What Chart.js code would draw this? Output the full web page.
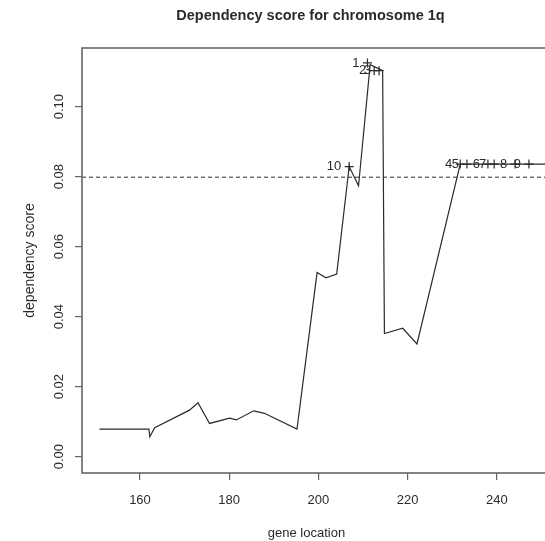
<!DOCTYPE html>
<html>
<head>
<meta charset="utf-8">
<script src="https://cdn.jsdelivr.net/npm/chart.js@4.4.1/dist/chart.umd.min.js"></script>
<style>
  html, body { margin: 0; padding: 0; background: #fff; overflow: hidden; }
  #chart { display: block; }
</style>
</head>
<body>
<canvas id="chart" width="545" height="541"></canvas>
<script>
const TITLE = "Dependency score for chromosome 1q";
const X_TITLE = "gene location";
const Y_TITLE = "dependency score";
const THRESHOLD = 0.08;

// gene location vs dependency score
const lineX = [150.9, 162.0, 162.2, 163.3, 171.1, 173.0, 175.6, 180.1, 181.6, 185.5, 187.9, 195.2,
  199.7, 201.7, 204.1, 206.9, 209.0, 211.6, 214.4, 214.8, 218.9, 222.1, 231.8, 233.3, 238.0,
  239.4, 244.1, 247.2, 252.0];
const lineY = [0.0079, 0.0079, 0.0057, 0.0083, 0.0133, 0.0154, 0.0095, 0.0110, 0.0105, 0.0131, 0.0124, 0.0079,
  0.0526, 0.0511, 0.0522, 0.0829, 0.0774, 0.1120, 0.1103, 0.0352, 0.0367, 0.0322, 0.0836, 0.0836, 0.0836,
  0.0836, 0.0836, 0.0836, 0.0836];

// top ranked positions, marked with "+"
const topLabels = ["1", "2", "3", "4", "5", "6", "7", "8", "9", "10"];
const topX = [211.0, 212.5, 213.6, 231.8, 233.3, 238.0, 239.4, 244.1, 247.2, 206.9];
const topY = [0.1125, 0.1103, 0.1103, 0.0836, 0.0836, 0.0836, 0.0836, 0.0836, 0.0836, 0.0829];

const xTicks = [160, 180, 200, 220, 240];
const yTicks = [0, 0.02, 0.04, 0.06, 0.08, 0.10];

const ink = "#2b2b2b";
const frame = "#666";

const rPlot = {
  id: "rPlot",
  beforeDatasetsDraw(chart) {
    const { ctx, chartArea: a, scales: { y } } = chart;
    const yy = y.getPixelForValue(THRESHOLD);
    ctx.save();
    ctx.strokeStyle = ink;
    ctx.lineWidth = 1;
    ctx.setLineDash([4, 3]);
    ctx.beginPath();
    ctx.moveTo(a.left, yy + 0.5);
    ctx.lineTo(a.right, yy + 0.5);
    ctx.stroke();
    ctx.restore();
  },
  afterDraw(chart) {
    const { ctx, chartArea: a, scales: { x, y } } = chart;
    ctx.save();
    // box
    ctx.strokeStyle = frame;
    ctx.lineWidth = 1.6;
    ctx.strokeRect(a.left, a.top, a.right - a.left + 20, a.bottom - a.top);

    ctx.fillStyle = ink;
    // title
    ctx.font = "bold 14.5px 'Liberation Sans', Arial, sans-serif";
    ctx.textAlign = "center";
    ctx.textBaseline = "middle";
    ctx.fillText(TITLE, (a.left + a.right) / 2 - 3, 16);

    // x tick labels
    ctx.font = "13px 'Liberation Sans', Arial, sans-serif";
    xTicks.forEach((v) => ctx.fillText(String(v), x.getPixelForValue(v), 500));
    // x title
    ctx.fillText(X_TITLE, (a.left + a.right) / 2 - 7, 533);

    // y tick labels, rotated
    yTicks.forEach((v) => {
      ctx.save();
      ctx.translate(59, y.getPixelForValue(v));
      ctx.rotate(-Math.PI / 2);
      ctx.fillText(v.toFixed(2), 0, 0);
      ctx.restore();
    });
    // y title
    ctx.save();
    ctx.font = "14px 'Liberation Sans', Arial, sans-serif";
    ctx.translate(30, (a.top + a.bottom) / 2);
    ctx.rotate(-Math.PI / 2);
    ctx.fillText(Y_TITLE, 0, 0);
    ctx.restore();

    // point labels, left of each mark
    ctx.font = "13px 'Liberation Sans', Arial, sans-serif";
    ctx.textAlign = "right";
    topLabels.forEach((label, i) => {
      ctx.fillText(label, x.getPixelForValue(topX[i]) - 8, y.getPixelForValue(topY[i]));
    });
    ctx.restore();
  }
};

new Chart(document.getElementById("chart"), {
  type: "scatter",
  data: {
    datasets: [
      {
        data: lineX.map((v, i) => ({ x: v, y: lineY[i] })),
        showLine: true,
        borderColor: ink,
        borderWidth: 1.2,
        pointRadius: 0,
        tension: 0
      },
      {
        data: topX.map((v, i) => ({ x: v, y: topY[i] })),
        pointStyle: "cross",
        pointRadius: 4.5,
        borderColor: ink,
        borderWidth: 1.2,
        showLine: false
      }
    ]
  },
  options: {
    responsive: false,
    animation: false,
    devicePixelRatio: 1,
    layout: { autoPadding: false, padding: { top: 48, left: 0, right: 0, bottom: 0 } },
    plugins: { legend: { display: false }, tooltip: { enabled: false } },
    scales: {
      x: {
        type: "linear",
        min: 147.0,
        max: 250.8,
        afterBuildTicks: (scale) => { scale.ticks = xTicks.map((v) => ({ value: v })); },
        afterFit: (scale) => { scale.height = 68; },
        ticks: { display: false },
        grid: { drawOnChartArea: false, drawTicks: true, tickLength: 7, color: frame, lineWidth: 1.2 },
        border: { display: false }
      },
      y: {
        type: "linear",
        min: -0.00466,
        max: 0.11677,
        afterBuildTicks: (scale) => { scale.ticks = yTicks.map((v) => ({ value: v })); },
        afterFit: (scale) => { scale.width = 82; },
        ticks: { display: false },
        grid: { drawOnChartArea: false, drawTicks: true, tickLength: 7, color: frame, lineWidth: 1.2 },
        border: { display: false }
      }
    }
  },
  plugins: [rPlot]
});
</script>
</body>
</html>
